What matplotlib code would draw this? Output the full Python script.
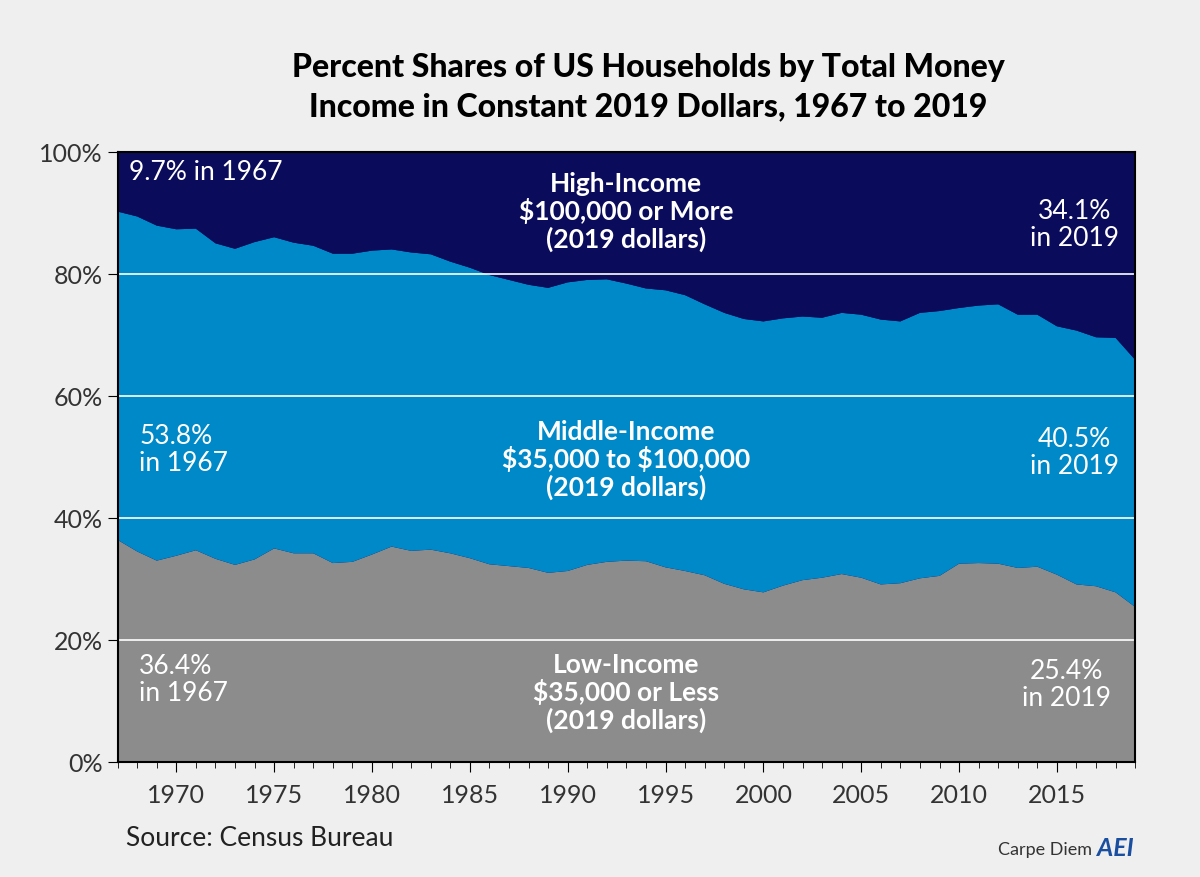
import matplotlib
matplotlib.use("Agg")
import matplotlib.pyplot as plt
from matplotlib.ticker import FixedLocator, MultipleLocator

plt.rcParams["font.family"] = "Lato"
plt.rcParams["text.parse_math"] = False

years = list(range(1967, 2020))
low = [36.4,34.5,33.0,33.8,34.7,33.3,32.3,33.2,35.0,34.2,34.2,32.6,32.8,34.0,35.3,34.6,34.8,34.2,33.4,32.4,
       32.1,31.8,31.0,31.3,32.3,32.8,33.0,32.9,31.9,31.3,30.6,29.2,28.3,27.8,28.9,29.8,30.2,30.8,30.2,29.1,
       29.3,30.1,30.5,32.5,32.6,32.5,31.8,32.0,30.7,29.1,28.8,27.8,25.4]
middle = [53.8,54.9,54.9,53.5,52.7,51.7,51.8,52.0,51.0,50.9,50.4,50.7,50.5,49.8,48.7,48.9,48.4,47.8,47.6,47.4,
          46.9,46.4,46.7,47.3,46.7,46.3,45.4,44.7,45.4,45.2,44.4,44.4,44.3,44.4,43.8,43.2,42.6,42.8,43.1,43.4,
          42.9,43.5,43.4,41.9,42.2,42.5,41.5,41.3,40.7,41.6,40.8,41.7,40.5]
high = [9.8,10.6,12.1,12.7,12.6,15.0,15.9,14.8,14.0,14.9,15.4,16.7,16.7,16.2,16.0,16.5,16.8,18.0,19.0,20.2,
        21.0,21.8,22.3,21.4,21.0,20.9,21.6,22.4,22.7,23.5,25.0,26.4,27.4,27.8,27.3,27.0,27.2,26.4,26.7,27.5,
        27.8,26.4,26.1,25.6,25.2,25.0,26.7,26.7,28.6,29.3,30.4,30.5,34.1]
yticks = [0, 20, 40, 60, 80, 100]
xticks = [1970, 1975, 1980, 1985, 1990, 1995, 2000, 2005, 2010, 2015]

NAVY, BLUE, GREY = "#0b0b5c", "#0089c9", "#8c8c8c"
bg = "#efefef"
fig = plt.figure(figsize=(12, 8.78), dpi=100, facecolor=bg)
ax = fig.add_axes([0.098, 0.131, 0.848, 0.695])
ax.set_facecolor(NAVY)
ax.stackplot(years, low, middle, high, colors=[GREY, BLUE, NAVY], linewidth=0)
ax.set_xlim(1967, 2019)
ax.set_ylim(0, 100)
for y in [20, 40, 60, 80]:
    ax.axhline(y, color="white", lw=1.2)
ax.yaxis.set_major_locator(FixedLocator(yticks))
ax.set_yticklabels([f"{v}%" for v in yticks], fontsize=18, color="#333333")
ax.xaxis.set_major_locator(FixedLocator(xticks))
ax.xaxis.set_minor_locator(MultipleLocator(1))
ax.tick_params(axis="x", which="major", length=7, labelsize=18, labelcolor="#333333", pad=8)
ax.tick_params(axis="x", which="minor", length=4)
ax.tick_params(axis="y", length=7)
for s in ax.spines.values():
    s.set_color("black"); s.set_linewidth(1.5)

fig.text(0.54, 0.94, "Percent Shares of US Households by Total Money\nIncome in Constant 2019 Dollars, 1967 to 2019",
         ha="center", va="top", fontsize=23, fontweight="heavy", color="black", linespacing=1.45)

def t(x, y, s, bold=False, ha="left"):
    ax.text(x, y, s, color="white", fontsize=19, ha=ha, va="center",
            fontweight="bold" if bold else "normal", linespacing=1.1)

t(1993, 90.3, "High-Income\n$100,000 or More\n(2019 dollars)", True, "center")
t(1993, 49.7, "Middle-Income\n$35,000 to $100,000\n(2019 dollars)", True, "center")
t(1993, 11.5, "Low-Income\n$35,000 or Less\n(2019 dollars)", True, "center")
t(1967.6, 96.8, "9.7% in 1967")
t(1968.1, 51.3, "53.8%\nin 1967")
t(1968.1, 13.6, "36.4%\nin 1967")
t(2015.9, 88.2, "34.1%\nin 2019", ha="center")
t(2015.9, 50.8, "40.5%\nin 2019", ha="center")
t(2015.5, 12.8, "25.4%\nin 2019", ha="center")

fig.text(0.105, 0.045, "Source: Census Bureau", fontsize=19, color="#222222", va="center")
fig.text(0.91, 0.032, "Carpe Diem", fontsize=13, color="#333333", ha="right", va="center")
fig.text(0.945, 0.034, "AEI", fontsize=18, color="#1a4fa0", ha="right", va="center",
         fontweight="bold", style="italic")
fig.savefig("out.png", dpi=100, facecolor=bg)
